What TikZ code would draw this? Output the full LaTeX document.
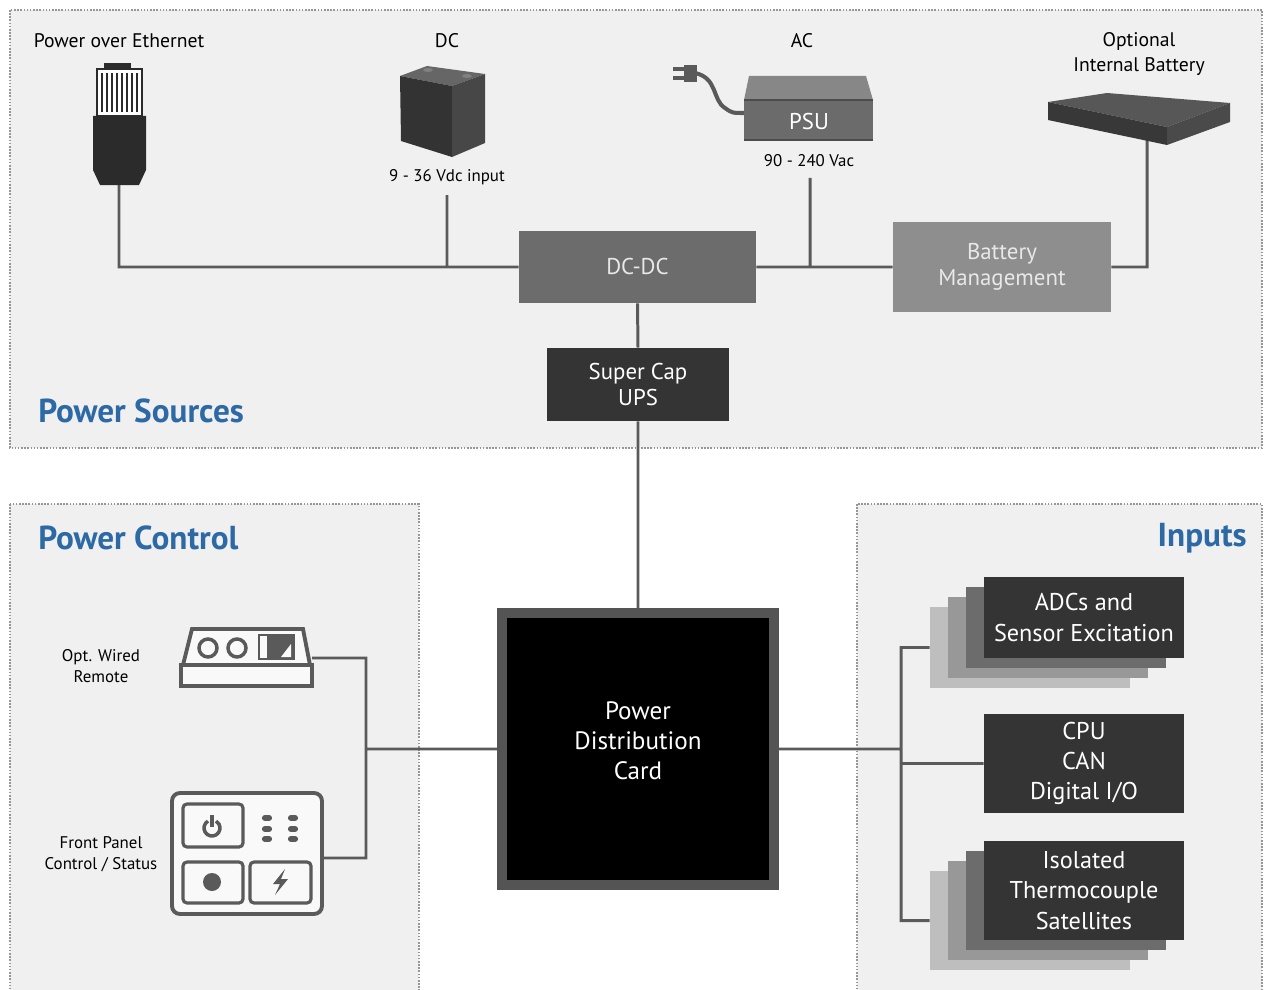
\documentclass[tikz,border=0pt]{standalone}
\usepackage{fontspec}
\setmainfont{PT Sans}
\usetikzlibrary{positioning,calc}
\definecolor{panelbg}{RGB}{240,240,240}
\definecolor{dotline}{RGB}{150,150,150}
\definecolor{wiregray}{RGB}{90,90,90}
\definecolor{titleblue}{RGB}{45,105,165}
\definecolor{darkbox}{RGB}{52,52,52}
\definecolor{midbox}{RGB}{108,108,108}
\definecolor{lightbox}{RGB}{142,142,142}
\definecolor{layA}{RGB}{108,108,108}
\definecolor{layB}{RGB}{152,152,152}
\definecolor{layC}{RGB}{190,190,190}
\definecolor{boxtext}{RGB}{232,232,232}

\begin{document}
\begin{tikzpicture}[x=0.02cm,y=-0.02cm,
  panel/.style={fill=panelbg,draw=dotline,line width=0.9pt,dash pattern=on 0.9pt off 0.9pt},
  title/.style={text=titleblue,inner sep=0pt,font=\fontsize{18.9}{21}\selectfont\bfseries},
  lbl/.style={font=\fontsize{11.2}{14.2}\selectfont,align=center,inner sep=0pt},
  small/.style={font=\fontsize{9.6}{11.9}\selectfont,align=center,inner sep=0pt},
  block/.style={text=boxtext,align=center,inner sep=0pt,font=\fontsize{13}{15}\selectfont},
  inbox/.style={fill=darkbox,text=white,align=center,inner sep=0pt,minimum width=4cm,font=\fontsize{13.8}{17.2}\selectfont},
  stacklayer/.style={inner sep=0pt,minimum width=4cm},
  link/.style={draw=wiregray,line width=1.7pt},
  icon/.style={draw=wiregray,line width=2.2pt,fill=white!60!panelbg}
]
\useasboundingbox (0,0) rectangle (1265,990);
\fill[white] (0,0) rectangle (1265,990);

\draw[panel] (10,10) rectangle (1262,448);
\draw[panel] (10,504) rectangle (419,1000);
\draw[panel] (857,504) rectangle (1262,1000);

\node[title,anchor=west] (srcT) at (38,411) {Power Sources};
\node[title,anchor=west] (ctlT) at (38,538) {Power Control};
\node[title,anchor=east] (inT) at (1247,538) {Inputs};

\node[lbl] (poeL) at (119,41) {Power over Ethernet};
\node[lbl] (dcL) at (447,41) {DC};
\node[lbl] (acL) at (802,41) {AC};
\node[lbl] (optL) at (1139,54) {Optional\\Internal Battery};
\node[small] (dcV) at (447,177) {9 - 36 Vdc input};
\node[small] (acV) at (809,161) {90 - 240 Vac};
\node[small] (remL) at (101,666) {Opt. Wired\\Remote};
\node[small] (fpL) at (101,854) {Front Panel\\Control / Status};

\coordinate (poe) at (119,185);
\coordinate (dcin) at (447,195);
\coordinate (acin) at (810,178);
\coordinate (ibat) at (1147,140);
\coordinate (rem) at (312,658);
\coordinate (fp) at (322,858);
\coordinate (jl) at (366,749);
\coordinate (jr) at (901,749);

\node[block,fill=midbox,minimum width=4.74cm,minimum height=1.44cm] (dcdc) at (637.5,267) {DC-DC};
\node[block,fill=lightbox,minimum width=4.36cm,minimum height=1.8cm] (bm) at (1002,267) {Battery\\Management};
\node[block,fill=darkbox,text=white,minimum width=3.64cm,minimum height=1.46cm] (ups) at (638,384.5) {Super Cap\\UPS};
\node[fill=black,draw=black!67,line width=0.2cm,minimum size=5.44cm] (pdc) at (638,749) {};
\node[text=white,align=center,inner sep=0pt,font=\fontsize{14.3}{17}\selectfont] (pdcL) at (638,741) {Power\\Distribution\\Card};

\foreach \i/\c in {3/layC,2/layB,1/layA}{
  \node[stacklayer,fill=\c,minimum height=1.62cm] (adc\i) at ({1084-18*\i},{617.5+10*\i}) {};
  \node[stacklayer,fill=\c,minimum height=1.98cm] (tc\i) at ({1084-18*\i},{890.5+10*\i}) {};
}
\node[inbox,minimum height=1.62cm] (adc) at (1084,617.5) {ADCs and\\Sensor Excitation};
\node[inbox,minimum height=1.98cm] (cpu) at (1084,763.5) {CPU\\CAN\\Digital I/O};
\node[inbox,minimum height=1.98cm] (tc) at (1084,890.5) {Isolated\\Thermocouple\\Satellites};

\path[link]
  (poe) |- (dcdc.west)
  (dcin) -- (dcin |- dcdc.west)
  (acin) -- (acin |- dcdc.east)
  (dcdc.east) -- (bm.west |- dcdc.east)
  (ibat) |- (bm.east |- dcdc.east)
  (dcdc.south) -- (ups.north)
  (ups.south) -- (pdc.north)
  (pdc.west) -- (jl)
  (rem) -| (jl) |- (fp)
  (pdc.east) -- (jr)
  (adc3.west) -| (jr) |- (tc3.west)
  (jr |- cpu.west) -- (cpu.west);

\fill[black!83] (104,63) rectangle (131,69);
\draw[black!83,line width=1.3pt,fill=white] (97,69) rectangle (142,116);
\foreach \x in {102,107,...,137} \draw[black!83,line width=1.2pt] (\x,73) -- (\x,112);
\fill[black!83] (93,116) -- (146,116) -- (146,170) -- (139,185) -- (100,185) -- (93,170) -- cycle;

\fill[black!60] (400,76) -- (427,66) -- (485,74) -- (452,86) -- cycle;
\fill[black!80] (400,76) -- (452,86) -- (452,157) -- (401,141) -- cycle;
\fill[black!72] (452,86) -- (485,74) -- (485,143) -- (452,157) -- cycle;
\fill[black!50] (428,70) ellipse[x radius=5,y radius=2] (467,76) ellipse[x radius=5,y radius=2];

\draw[wiregray,line width=2.3pt,line cap=round] (695,73) .. controls (718,78) and (712,100) .. (725,108) .. controls (732,113) .. (745,113);
\fill[wiregray] (684,65) rectangle (697,82);
\draw[wiregray,line width=2.2pt] (673,69) -- (684,69) (673,78) -- (684,78);
\fill[black!47] (749,76) -- (866,76) -- (873,100) -- (744,100) -- cycle;
\fill[black!58] (744,100) rectangle (873,140);
\draw[black!70,line width=1.2pt] (744,100) -- (873,100) (744,140) -- (873,140);
\node[text=white,font=\fontsize{13}{14}\selectfont,inner sep=0pt] (psu) at (809,122) {PSU};

\fill[black!66] (1048,102) -- (1107,93) -- (1230,103) -- (1167,127) -- cycle;
\fill[black!78] (1048,102) -- (1167,127) -- (1167,145) -- (1048,120) -- cycle;
\fill[black!71] (1167,127) -- (1230,103) -- (1230,122) -- (1167,145) -- cycle;

\draw[icon] (192,629) -- (303,629) -- (310,665) -- (183,665) -- cycle;
\draw[icon] (181,665) rectangle (312,686);
\draw[wiregray,line width=2pt] (208,648) circle[radius=9] (237,648) circle[radius=9];
\draw[wiregray,line width=1.6pt] (259,635) rectangle (294,659);
\fill[wiregray] (267,636) rectangle (293,658);
\fill[white!60!panelbg] (281,657) -- (291,644) -- (291,657) -- cycle;

\draw[icon,rounded corners=0.16cm] (172,793) rectangle (322,914);
\draw[wiregray,line width=1.8pt,rounded corners=0.08cm] (183,804) rectangle (243,847) (183,862) rectangle (243,903) (250,862) rectangle (311,903);
\draw[wiregray,line width=2pt] (212,828) ++(120:0.16cm) arc[start angle=120,end angle=420,radius=0.16cm];
\draw[wiregray,line width=2pt] (212,815) -- (212,827);
\fill[wiregray] (212,882) circle[radius=9];
\fill[wiregray] (285,869) -- (273,884) -- (280,884) -- (275,895) -- (288,879) -- (281,879) -- cycle;
\foreach \x in {267,293} \foreach \y in {818,829,839} \draw[wiregray,line width=3.5pt,line cap=round] (\x-2,\y) -- (\x+2,\y);
\end{tikzpicture}
\end{document}
